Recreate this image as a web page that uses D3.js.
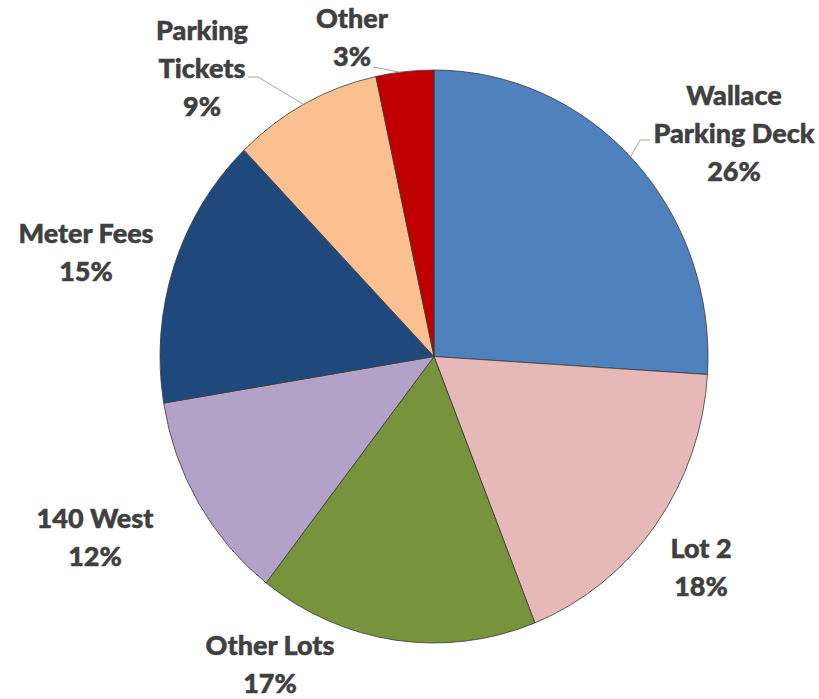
<!DOCTYPE html>
<html>
<head>
<meta charset="utf-8">
<script src="https://cdn.jsdelivr.net/npm/d3@7"></script>
<style>
  body { margin: 0; background: #fff; }
  svg { display: block; }
  .lbl { font-family: Lato, "Open Sans", sans-serif; font-weight: 900; font-size: 27px; fill: #404040; stroke: #404040; stroke-width: 0.5px; }
</style>
</head>
<body>
<svg id="chart" width="819" height="699"></svg>
<script>
const categories = ["Wallace Parking Deck", "Lot 2", "Other Lots", "140 West", "Meter Fees", "Parking Tickets", "Other"];
const values = [26, 18, 16.5, 11.9, 15.4, 8.8, 3.4];
const percentLabels = ["26%", "18%", "17%", "12%", "15%", "9%", "3%"];
const colors = ["#4F81BD", "#E6B9B8", "#77933C", "#B3A2C7", "#1F497D", "#FAC090", "#C00000"];

// label text split into lines
const nameLines = [
  ["Wallace", "Parking Deck"],
  ["Lot 2"],
  ["Other Lots"],
  ["140 West"],
  ["Meter Fees"],
  ["Parking", "Tickets"],
  ["Other"]
];
// centre x and first baseline of each label
const labelPos = [[734, 105], [701, 558], [270, 655], [95, 528], [86, 243], [202, 40], [352, 28]];

const width = 819, height = 699;
const cx = 434, cy = 356.5, rx = 274, ry = 286.5;

const svg = d3.select("#chart");
// the pie in the picture is slightly taller than wide
const g = svg.append("g").attr("transform", `translate(${cx},${cy}) scale(1,${ry / rx})`);

const pie = d3.pie().sort(null).value(d => d.value);
const arc = d3.arc().innerRadius(0).outerRadius(rx);

const data = categories.map((c, i) => ({ name: c, value: values[i] }));
const arcs = pie(data);

g.selectAll("path")
  .data(arcs)
  .join("path")
  .attr("d", arc)
  .attr("fill", (d, i) => colors[i])
  .attr("stroke", "#3a3a3a")
  .attr("stroke-width", 0.8)
  .style("vector-effect", "non-scaling-stroke");

// point on the rim inside a slice
function edgePoint(d, frac) {
  const a = d.startAngle + (d.endAngle - d.startAngle) * frac;
  return [cx + rx * Math.sin(a), cy - ry * Math.cos(a)];
}

// leader lines (Wallace, Parking Tickets, Other)
const leaders = [
  { i: 0, frac: 0.49, pts: [[640, 140], [650, 140]] },
  { i: 5, frac: 0.49, pts: [[258, 77], [248, 77]] },
  { i: 6, frac: 0.42, pts: [[373, 67]] }
];
leaders.forEach(l => {
  const p = edgePoint(arcs[l.i], l.frac);
  svg.append("polyline")
    .attr("points", [p].concat(l.pts).map(q => q.join(",")).join(" "))
    .attr("fill", "none")
    .attr("stroke", "#a6a6a6")
    .attr("stroke-width", 1);
});

nameLines.forEach((lines, i) => {
  const t = svg.append("text")
    .attr("class", "lbl")
    .attr("text-anchor", "middle")
    .attr("x", labelPos[i][0])
    .attr("y", labelPos[i][1]);
  lines.concat([percentLabels[i]]).forEach((s, k) => {
    t.append("tspan")
      .attr("x", labelPos[i][0])
      .attr("dy", k === 0 ? 0 : 38)
      .text(s);
  });
});
</script>
</body>
</html>
